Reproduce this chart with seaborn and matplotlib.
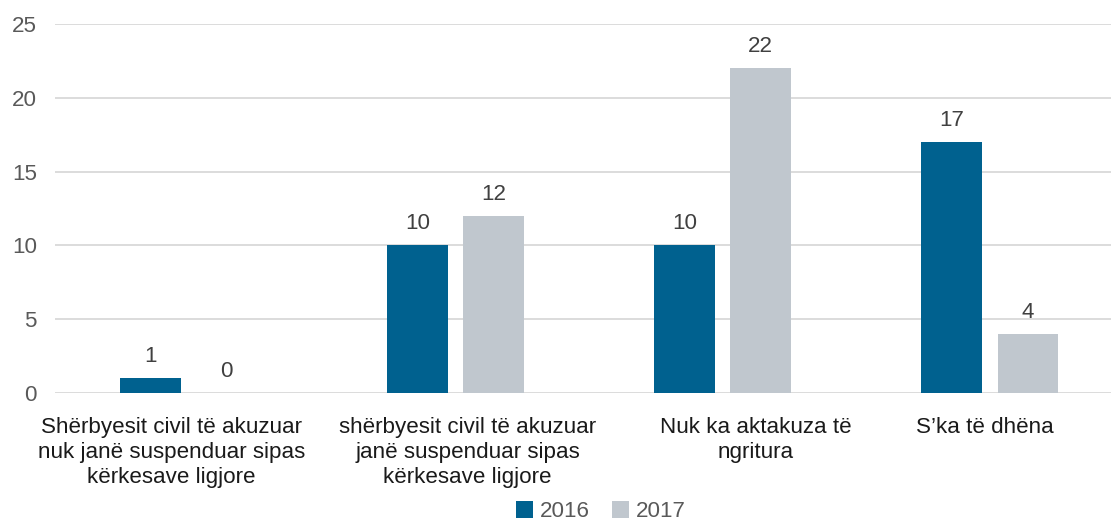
import matplotlib

matplotlib.use("Agg")

import matplotlib.pyplot as plt
import matplotlib.transforms as mtransforms
import pandas as pd
import seaborn as sns

CATEGORIES = [
    "Shërbyesit civil të akuzuar\nnuk janë suspenduar sipas\nkërkesave ligjore",
    "shërbyesit civil të akuzuar\njanë suspenduar sipas\nkërkesave ligjore",
    "Nuk ka aktakuza të\nngritura",
    "S’ka të dhëna",
]
YEARS = ["2016", "2017"]
VALUES_2016 = [1, 10, 10, 17]
VALUES_2017 = [0, 12, 22, 4]
COLORS = {"2016": "#00618f", "2017": "#c0c7ce"}

FS = 16.1
# horizontal nudge (px) of each wrapped category label, as in the original
LABEL_SHIFT = [-17, 12, 33, -5]

df = pd.DataFrame(
    {
        "category": CATEGORIES * 2,
        "year": ["2016"] * len(CATEGORIES) + ["2017"] * len(CATEGORIES),
        "value": VALUES_2016 + VALUES_2017,
    }
)

sns.set_style("white")
plt.rcParams["font.family"] = ["Liberation Sans", "DejaVu Sans"]

fig = plt.figure(figsize=(11.11, 5.25), dpi=100)
ax = fig.add_axes([0.0495, 0.2514, 0.9505, 0.7029])

sns.barplot(
    data=df,
    x="category",
    y="value",
    hue="year",
    hue_order=YEARS,
    palette=COLORS,
    width=0.57,
    gap=0.21,
    saturation=1,
    linewidth=0,
    ax=ax,
    zorder=3,
)

for container in ax.containers:
    ax.bar_label(container, padding=8, fontsize=FS, color="#404040")

ax.set_ylim(0, 25)
ax.set_yticks(range(0, 26, 5))
ax.set_xlim(-0.5, 3.455)
ax.yaxis.grid(True, color="#d9d9d9", linewidth=1.3, zorder=0)
ax.set_axisbelow(True)
for side in ["top", "right", "left", "bottom"]:
    ax.spines[side].set_visible(False)
ax.set_xlabel("")
ax.set_ylabel("")
ax.tick_params(axis="y", length=0, pad=13, labelsize=FS, labelcolor="#595959")
ax.tick_params(axis="x", length=0, pad=17, labelsize=FS, labelcolor="#1a1a1a")
for lbl, dx in zip(ax.get_xticklabels(), LABEL_SHIFT):
    lbl.set_linespacing(1.25)
    lbl.set_transform(lbl.get_transform() + mtransforms.ScaledTranslation(dx / 100, 0, fig.dpi_scale_trans))

ax.legend_.remove()
handles, labels = ax.get_legend_handles_labels()
fig.legend(
    handles,
    labels,
    loc="center",
    bbox_to_anchor=(0.541, 0.025),
    ncol=2,
    frameon=False,
    fontsize=FS,
    labelcolor="#595959",
    handlelength=0.75,
    handleheight=0.75,
    handletextpad=0.3,
    columnspacing=1.0,
)

fig.savefig("out.png", dpi=100)
